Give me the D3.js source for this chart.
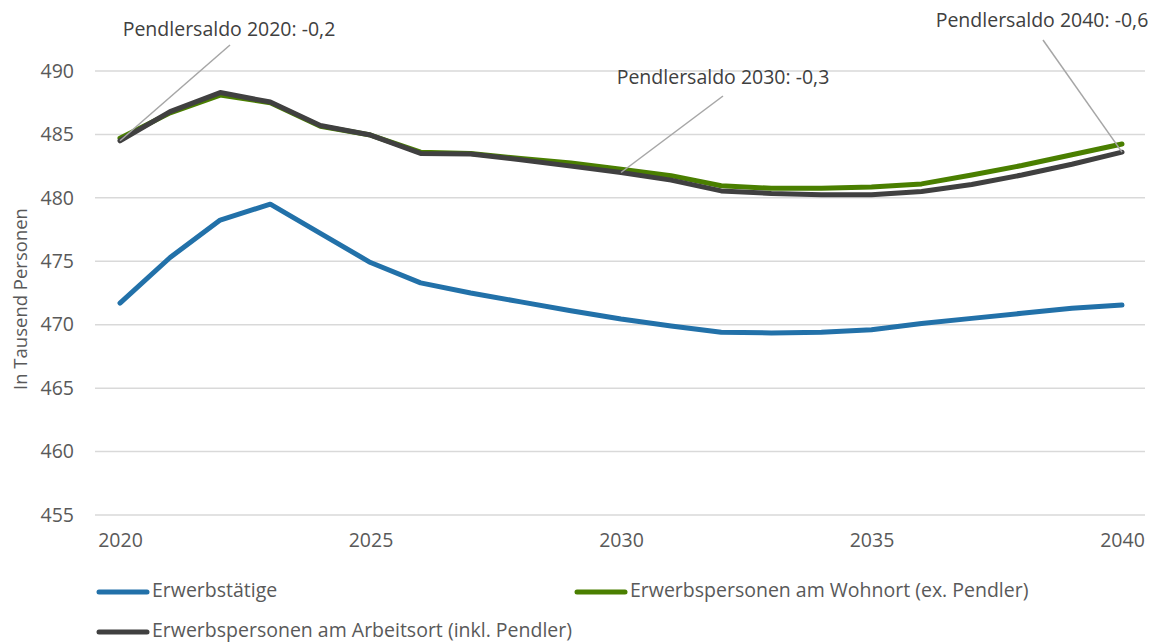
<!DOCTYPE html>
<html><head><meta charset="utf-8">
<script src="https://cdn.jsdelivr.net/npm/d3@7"></script>
<style>
body{margin:0;background:#fff;}
svg{display:block;font-family:"Open Sans","Noto Sans",sans-serif;}
</style></head>
<body>
<svg id="c" width="1160" height="644"></svg>
<script>
const years = d3.range(2020, 2041);
const erwerbstaetige = [471.7,475.3,478.25,479.5,477.2,474.9,473.3,472.5,471.8,471.1,470.45,469.9,469.4,469.35,469.4,469.6,470.1,470.5,470.9,471.3,471.55];
const wohnort = [484.7,486.7,488.1,487.5,485.65,484.95,483.6,483.5,483.1,482.75,482.25,481.75,480.95,480.75,480.75,480.85,481.1,481.8,482.55,483.4,484.25];
const arbeitsort = [484.5,486.8,488.3,487.55,485.7,484.95,483.5,483.45,483.0,482.5,482.0,481.4,480.55,480.35,480.25,480.25,480.5,481.05,481.8,482.65,483.6];
const yTicks = [455,460,465,470,475,480,485,490];
const xTicks = [2020,2025,2030,2035,2040];
const seriesNames = ["Erwerbstätige","Erwerbspersonen am Wohnort (ex. Pendler)","Erwerbspersonen am Arbeitsort (inkl. Pendler)"];
const annYears = [2020,2030,2040];
const annTexts = ["Pendlersaldo 2020: -0,2","Pendlersaldo 2030: -0,3","Pendlersaldo 2040: -0,6"];

const colors = ["#2271a9","#4a7f00","#404040"];
const svg = d3.select("#c");
const x = d3.scaleLinear().domain([2020,2040]).range([120,1122]);
const y = d3.scaleLinear().domain([455,490]).range([515,71]);

// gridlines
svg.append("g").selectAll("line").data(yTicks).join("line")
  .attr("x1",95).attr("x2",1145).attr("y1",d=>y(d)).attr("y2",d=>y(d))
  .attr("stroke","#d9d9d9").attr("stroke-width",1.5);

// y axis labels
const yAxis = d3.axisLeft(y).tickValues(yTicks).tickSize(0).tickPadding(0);
const gy = svg.append("g").attr("transform","translate(74,0)").call(yAxis);
gy.select(".domain").remove();
gy.selectAll("text").attr("font-size",19.5).attr("fill","#595959").attr("font-family","'Open Sans','Noto Sans',sans-serif");

// x axis labels
const xAxis = d3.axisBottom(x).tickValues(xTicks).tickSize(0).tickPadding(0).tickFormat(d3.format("d"));
const gx = svg.append("g").attr("transform","translate(0,533)").call(xAxis);
gx.select(".domain").remove();
gx.selectAll("text").attr("font-size",19.5).attr("fill","#595959").attr("font-family","'Open Sans','Noto Sans',sans-serif");

// y title
svg.append("text").attr("transform","translate(27,299) rotate(-90)")
  .attr("text-anchor","middle").attr("font-size",18.5).attr("fill","#595959")
  .text("In Tausend Personen");

const line = d3.line().x((d,i)=>x(years[i])).y(d=>y(d));
[erwerbstaetige, wohnort, arbeitsort].forEach((s,k)=>{
  svg.append("path").datum(s).attr("d",line).attr("fill","none")
    .attr("stroke",colors[k]).attr("stroke-width",5)
    .attr("stroke-linejoin","round").attr("stroke-linecap","round");
});

// annotations
const annPos = [[229,31,"middle",230,45],[723,79,"middle",723,96],[1042,22,"middle",1043,40]];
annYears.forEach((yr,i)=>{
  const idx = years.indexOf(yr);
  const p = annPos[i];
  svg.append("line").attr("x1",p[3]).attr("y1",p[4])
    .attr("x2",x(yr)).attr("y2",y(arbeitsort[idx]))
    .attr("stroke","#a6a6a6").attr("stroke-width",1.5);
  svg.append("text").attr("x",p[0]).attr("y",p[1]).attr("text-anchor",p[2])
    .attr("dominant-baseline","middle").attr("font-size",19.5).attr("fill","#404040")
    .text(annTexts[i]);
});

// legend
const legPos = [[97,592],[575,592],[97,632]];
seriesNames.forEach((n,k)=>{
  const [lx,ly] = legPos[k];
  svg.append("line").attr("x1",lx+2).attr("x2",lx+50).attr("y1",ly).attr("y2",ly)
    .attr("stroke",colors[k]).attr("stroke-width",5).attr("stroke-linecap","round");
  svg.append("text").attr("x",lx+55).attr("y",ly).attr("dominant-baseline","middle")
    .attr("font-size",19.5).attr("fill","#595959").text(n);
});
</script>
</body></html>
